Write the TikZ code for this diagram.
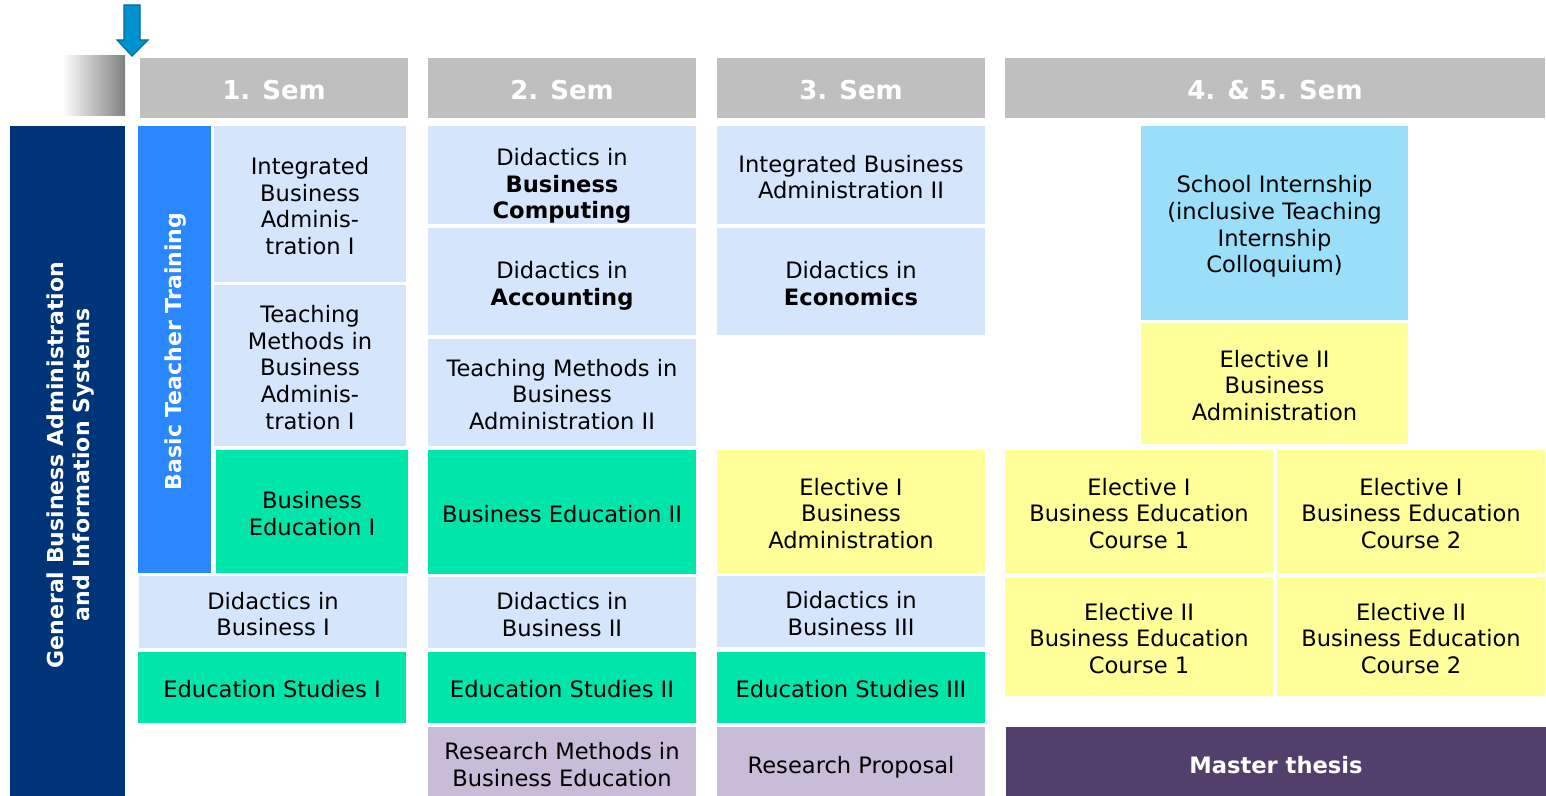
\documentclass[tikz,border=0pt]{standalone}
\usepackage{fontspec}
\setmainfont{DejaVu Sans}
\usetikzlibrary{positioning}

\definecolor{semgray}{HTML}{BFBFBF}
\definecolor{navy}{HTML}{003478}
\definecolor{basicblue}{HTML}{2A87FF}
\definecolor{lightblue}{HTML}{D5E5FB}
\definecolor{mint}{HTML}{00E5AA}
\definecolor{lemon}{HTML}{FFFF99}
\definecolor{skyblue}{HTML}{9BDEF7}
\definecolor{lavender}{HTML}{C7BDD9}
\definecolor{plum}{HTML}{523F6B}
\definecolor{arrowblue}{HTML}{0092CF}
\definecolor{arrowedge}{HTML}{006C9C}

% [text shift], name, x0, y0, x1, y1, style, text
\newcommand{\cell}[8][0]{%
  \path[#7] (#3,#4) rectangle (#5,#6);
  \node[modcell, #7, fill=none, minimum width={(#5-#3)*0.5pt}, minimum height={(#6-#4)*0.5pt}]
    (#2) at ({(#3+#5)/2},{(#4+#6)/2+2+#1}) {#8};}

\begin{document}
\begin{tikzpicture}[x=0.5pt, y=-0.5pt,
    font=\fontsize{11.3}{13.4}\selectfont,
    modcell/.style={inner sep=0pt, draw=none, align=center, text=black},
    sem/.style={fill=semgray, text=white, font=\fontsize{13}{15}\selectfont\bfseries},
    lb/.style={fill=lightblue},
    gr/.style={fill=mint},
    ye/.style={fill=lemon},
    lv/.style={fill=lavender},
    vlabel/.style={rotate=90, align=center, text=white, font=\fontsize{11}{13}\selectfont\bfseries}]
  \useasboundingbox (0,0) rectangle (1546,796);
  \clip (0,0) rectangle (1546,796);

  % marker arrow and shaded tab
  \draw[arrowedge, fill=arrowblue, line width=0.6pt]
    (124,5) -- (140,5) -- (140,40) -- (148,40) -- (132,56) -- (117,40) -- (124,40) -- cycle;
  \shade[left color=white, right color=black!50] (62,56) rectangle (125,116);

  % semester headers
  \cell{s1}{140}{58}{408}{118}{sem}{1. Sem}
  \cell{s2}{428}{58}{696}{118}{sem}{2. Sem}
  \cell{s3}{717}{58}{985}{118}{sem}{3. Sem}
  \cell{s45}{1005}{58}{1545}{118}{sem}{4. \& 5. Sem}

  % left bars
  \cell{gbais}{10}{126}{125}{796}{fill=navy}{}
  \node[vlabel] (gbaislabel) at ([xshift=1.5pt, yshift=-1pt]gbais.center)
    {General Business Administration\\and Information Systems};
  \cell{btt}{138}{126}{211}{573}{fill=basicblue}{}
  \node[vlabel] (bttlabel) at ([xshift=0.75pt]btt.center) {Basic Teacher Training};

  % 1. Sem
  \cell{iba1}{214}{126}{406}{282}{lb}{Integrated\\Business\\Adminis-\\tration I}
  \cell{tmba1}{214}{285}{406}{446}{lb}{Teaching\\Methods in\\Business\\Adminis-\\tration I}
  \cell{be1}{216}{450}{408}{573}{gr}{Business\\Education I}
  \cell{dib1}{139}{576}{407}{648}{lb}{Didactics in\\Business I}
  \cell{es1}{138}{652}{406}{723}{gr}{Education Studies I}

  % 2. Sem
  \cell[9]{dibc}{428}{126}{696}{224}{lb}{Didactics in\\\textbf{Business}\\\textbf{Computing}}
  \cell[2]{dia}{428}{228}{696}{335}{lb}{Didactics in\\\textbf{Accounting}}
  \cell{tmba2}{428}{339}{696}{446}{lb}{Teaching Methods in\\Business\\Administration II}
  \cell{be2}{428}{450}{696}{574}{gr}{Business Education II}
  \cell{dib2}{428}{577}{696}{648}{lb}{Didactics in\\Business II}
  \cell{es2}{428}{652}{696}{723}{gr}{Education Studies II}
  \cell[1]{rm}{428}{727}{696}{796}{lv}{Research Methods in\\Business Education}

  % 3. Sem
  \cell{iba2}{717}{126}{985}{224}{lb}{Integrated Business\\Administration II}
  \cell{die}{717}{228}{985}{335}{lb}{Didactics in\\\textbf{Economics}}
  \cell{e1ba}{717}{450}{985}{573}{ye}{Elective I\\Business\\Administration}
  \cell{dib3}{717}{576}{985}{647}{lb}{Didactics in\\Business III}
  \cell{es3}{717}{652}{985}{723}{gr}{Education Studies III}
  \cell[4]{rp}{717}{727}{985}{796}{lv}{Research Proposal}

  % 4. & 5. Sem
  \cell[1.5]{si}{1141}{126}{1408}{320}{fill=skyblue}{School Internship\\(inclusive Teaching\\Internship\\Colloquium)}
  \cell{e2ba}{1141}{323}{1408}{444}{ye}{Elective II\\Business\\Administration}
  \cell{e1c1}{1005}{450}{1273}{573}{ye}{Elective I\\Business Education\\Course 1}
  \cell{e1c2}{1277}{450}{1545}{573}{ye}{Elective I\\Business Education\\Course 2}
  \cell{e2c1}{1005}{577}{1273}{696}{ye}{Elective II\\Business Education\\Course 1}
  \cell{e2c2}{1277}{577}{1545}{696}{ye}{Elective II\\Business Education\\Course 2}
  \cell[2]{mt}{1006}{727}{1546}{796}{fill=plum, text=white, font=\fontsize{11.3}{13.4}\selectfont\bfseries}{Master thesis}
\end{tikzpicture}
\end{document}
